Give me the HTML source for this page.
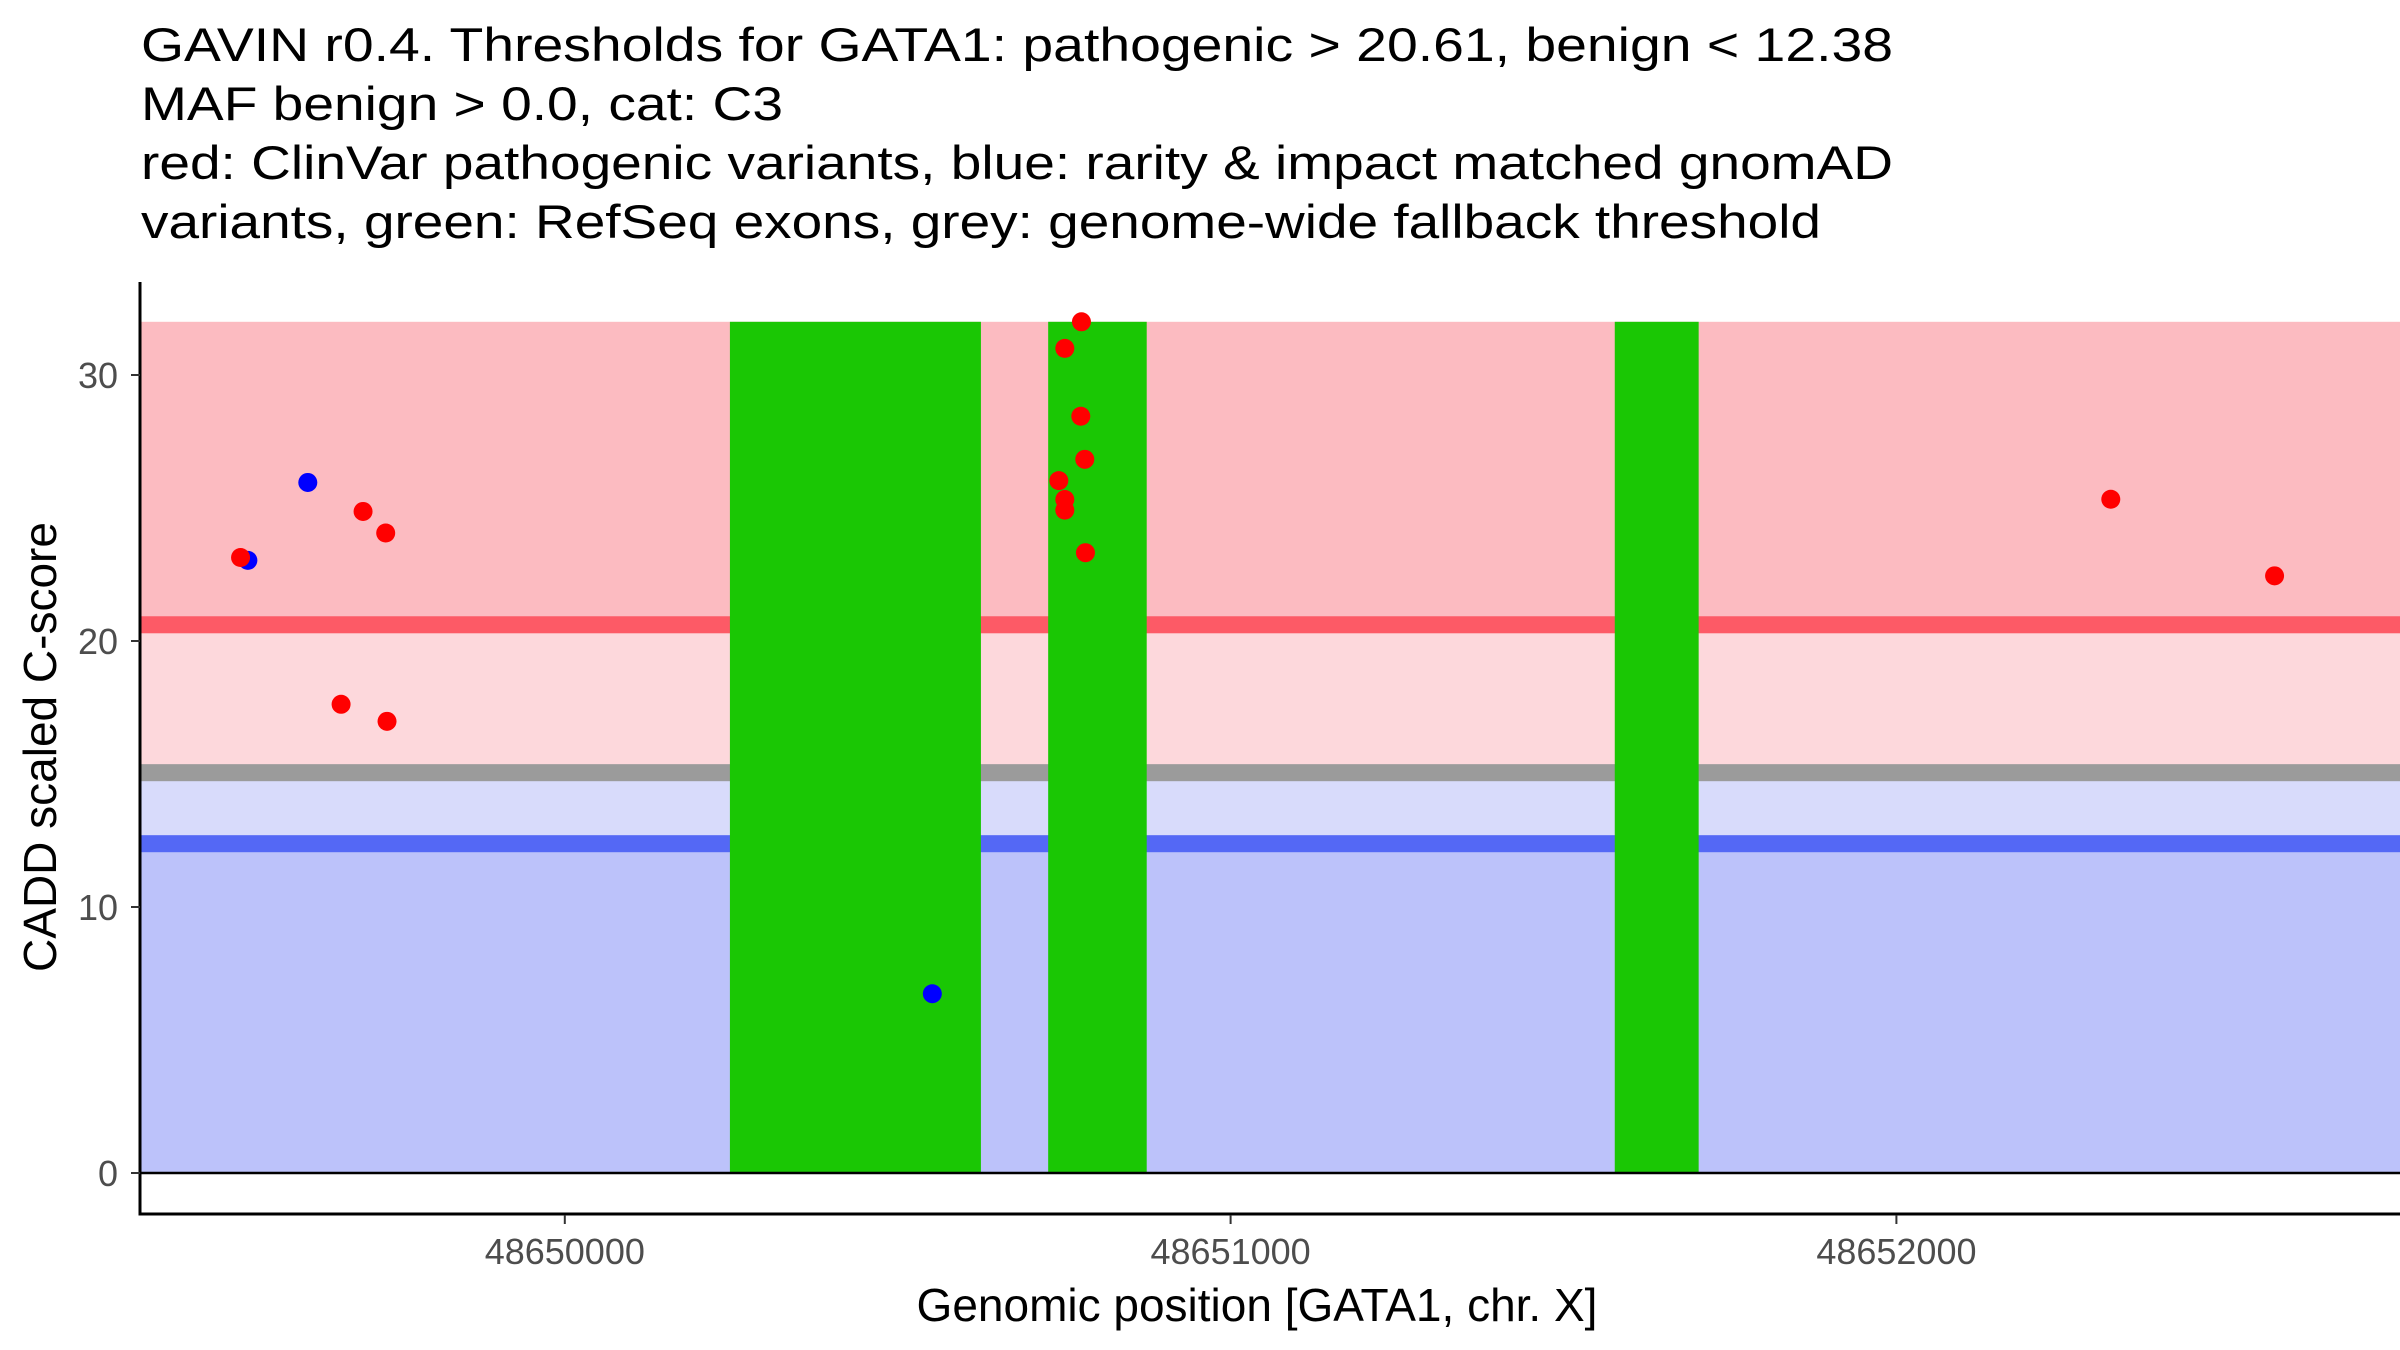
<!DOCTYPE html>
<html><head><meta charset="utf-8"><style>
html,body{margin:0;padding:0;background:#fff;}
svg{display:block;font-family:"Liberation Sans",Arial,sans-serif;}
</style></head><body>
<svg id="chart" width="2400" height="1350" viewBox="0 0 2400 1350" xmlns="http://www.w3.org/2000/svg">
<g font-size="47" fill="#000">
<text x="141" y="61" textLength="1752" lengthAdjust="spacingAndGlyphs">GAVIN r0.4. Thresholds for GATA1: pathogenic &gt; 20.61, benign &lt; 12.38</text>
<text x="141" y="120" textLength="642" lengthAdjust="spacingAndGlyphs">MAF benign &gt; 0.0, cat: C3</text>
<text x="141" y="179" textLength="1752" lengthAdjust="spacingAndGlyphs">red: ClinVar pathogenic variants, blue: rarity &amp; impact matched gnomAD</text>
<text x="141" y="238" textLength="1680" lengthAdjust="spacingAndGlyphs">variants, green: RefSeq exons, grey: genome-wide fallback threshold</text>
</g>
<g id="bands"></g>
<g id="exons"></g>
<g id="points"></g>
<g id="axes"></g>
<text x="1257" y="1321" font-size="46" text-anchor="middle" fill="#000">Genomic position [GATA1, chr. X]</text>
<text transform="translate(56,747) rotate(-90)" font-size="46" text-anchor="middle" fill="#000">CADD scaled C-score</text>
</svg>
<script>
const xTicks = [48650000, 48651000, 48652000];
const yTicks = [0, 10, 20, 30];
const thresholds = [20.61, 15.05, 12.38]; // pathogenic, fallback, benign
const bandTop = 32;
const exonStarts = [48650248, 48650726, 48651577];
const exonEnds = [48650625, 48650874, 48651703];
const redX = [48649513, 48649697, 48649731, 48649664, 48649733, 48650776, 48650751, 48650775, 48650781, 48650742, 48650751, 48650751, 48650782, 48652322, 48652568];
const redY = [23.14, 24.87, 24.06, 17.62, 16.98, 32.0, 31.0, 28.45, 26.83, 26.03, 25.32, 24.92, 23.32, 25.33, 22.45];
const blueX = [48649524, 48649614, 48650552];
const blueY = [23.03, 25.96, 6.74];

const NS = 'http://www.w3.org/2000/svg';
const x0 = 140, x1 = 2400;
const sx = v => 564.8 + (v - 48650000) * 0.6658;
const sy = v => 1173 - v * 26.6;
function mk(tag, attrs, parent) {
  const e = document.createElementNS(NS, tag);
  for (const k in attrs) e.setAttribute(k, attrs[k]);
  parent.appendChild(e);
  return e;
}
const bands = document.getElementById('bands');
const half = 0.32;
const pa = thresholds[0], fb = thresholds[1], bn = thresholds[2];
let r;
r = mk('rect', {x: x0, y: sy(bandTop), width: x1 - x0, height: sy(pa) - sy(bandTop), fill: '#FCBBC1'}, bands);


r = mk('rect', {x: x0, y: sy(pa), width: x1 - x0, height: sy(fb) - sy(pa), fill: '#FDD8DC'}, bands);


r = mk('rect', {x: x0, y: sy(fb), width: x1 - x0, height: sy(bn) - sy(fb), fill: '#D8DBFB'}, bands);


r = mk('rect', {x: x0, y: sy(bn), width: x1 - x0, height: sy(0) - sy(bn), fill: '#BCC2FA'}, bands);


const lineCols = ['#FD5A66', '#9B9B9B', '#5468F5'];
const lineNames = ['pathogenic-threshold-line', 'fallback-threshold-line', 'benign-threshold-line'];
thresholds.forEach((t, i) => {
  const l = mk('rect', {x: x0, y: sy(t + half), width: x1 - x0, height: sy(t - half) - sy(t + half), fill: lineCols[i]}, bands);
  
  
});
const exons = document.getElementById('exons');
exonStarts.forEach((s, i) => {
  const e = mk('rect', {x: sx(s), y: sy(bandTop), width: sx(exonEnds[i]) - sx(s), height: sy(0) - sy(bandTop), fill: '#1AC704'}, exons);
  
  
});
const axes = document.getElementById('axes');
mk('line', {x1: x0, x2: x1, y1: sy(0), y2: sy(0), stroke: '#000', 'stroke-width': 2.5}, axes);
mk('line', {x1: x0, x2: x0, y1: 282, y2: 1215.5, stroke: '#000', 'stroke-width': 3}, axes);
mk('line', {x1: x0 - 1.5, x2: x1, y1: 1214, y2: 1214, stroke: '#000', 'stroke-width': 3}, axes);
const pts = document.getElementById('points');
blueX.forEach((v, i) => {
  const c = mk('circle', {cx: sx(v), cy: sy(blueY[i]), r: 9.5, fill: '#0000FF'}, pts);
  
  
});
redX.forEach((v, i) => {
  const c = mk('circle', {cx: sx(v), cy: sy(redY[i]), r: 9.5, fill: '#FF0000'}, pts);
  
  
});
yTicks.forEach(t => {
  mk('line', {x1: x0 - 9, x2: x0, y1: sy(t), y2: sy(t), stroke: '#333', 'stroke-width': 2}, axes);
  const tx = mk('text', {x: x0 - 22, y: sy(t) + 13, 'font-size': 36, 'text-anchor': 'end', fill: '#4d4d4d'}, axes);
  tx.textContent = t;
  
  
});
xTicks.forEach(t => {
  mk('line', {x1: sx(t), x2: sx(t), y1: 1215, y2: 1224, stroke: '#333', 'stroke-width': 2}, axes);
  const tx = mk('text', {x: sx(t), y: 1264, 'font-size': 36, 'text-anchor': 'middle', fill: '#4d4d4d'}, axes);
  tx.textContent = t;
  
  
});
</script>
</body></html>
